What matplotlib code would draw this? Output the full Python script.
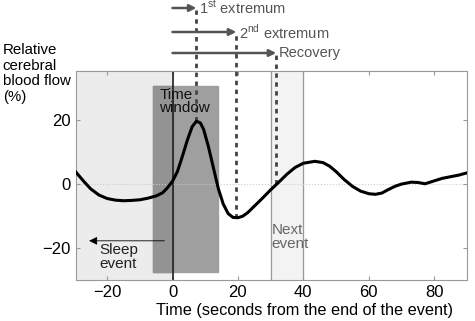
import numpy as np
import matplotlib.pyplot as plt
from matplotlib.patches import Rectangle

plt.rcParams['font.family'] = ['Liberation Sans', 'DejaVu Sans']

# relative cerebral blood flow around the end of a sleep event
t = [-29.5, -27, -25, -22.5, -20, -17.5, -15, -12.5, -10, -7.5, -5, -3, -1.5,
     0, 1.5, 3, 4.5, 6, 7.3, 8.5, 9.5, 11, 12.5, 14, 15.5, 17, 18.5, 20,
     21.5, 23, 25, 27.5, 30, 32.5, 35, 37.5, 40, 43.5, 46, 48, 50, 52.5,
     55, 57.5, 60, 62, 64, 66, 68, 70, 73, 75, 77.2, 80, 82.5, 85, 87.5, 90]
cbf = [3.6, 0.6, -1.6, -3.5, -4.6, -5.1, -5.3, -5.2, -5.0, -4.5, -3.8, -2.8, -1.2,
       0.8, 3.8, 8.5, 13.5, 17.8, 19.5, 19.0, 17.0, 11.5, 5.0, -1.5, -6.3, -9.3, -10.5, -10.6,
       -10.1, -9.0, -7.0, -4.5, -1.9, 0.5, 3.0, 5.1, 6.4, 7.0, 6.6, 5.5, 3.8, 1.3,
       -0.8, -2.3, -3.1, -3.3, -2.9, -1.8, -0.8, -0.1, 0.5, 0.4, 0.0, 0.9, 1.7, 2.2, 2.7, 3.4]

xticks = [-20, 0, 20, 40, 60, 80]
yticks = [-20, 0, 20]

first_ext, second_ext, recovery = 7.3, 19.5, 31.7
window = (-6, 14)
next_event = (30, 40)

fig = plt.figure(figsize=(4.75, 3.21), dpi=100)
ax = fig.add_axes([0.16, 0.128, 0.823, 0.652])
ax.set_xlim(-29.5, 90)
ax.set_ylim(-30, 35.3)

# shaded regions
ax.axvspan(-29.5, 0, color='#ececec', zorder=0)
ax.axvspan(next_event[0], next_event[1], color='#f3f3f3', zorder=0)
ax.axvline(next_event[0], color='#999999', lw=0.9, zorder=1)
ax.axvline(next_event[1], color='#999999', lw=0.9, zorder=1)
ax.add_patch(Rectangle((window[0], -27.5), window[1] - window[0], 58, color='#9f9f9f', zorder=1))
ax.add_patch(Rectangle((window[0], -27.5), 0 - window[0], 58, color='#939393', zorder=1))
ax.axhline(0, color='#cccccc', lw=0.8, ls=':', zorder=1)
ax.axvline(0, color='#222222', lw=1.2, zorder=2)

ax.plot(t, cbf, color='black', lw=2.2, zorder=4)

# dashed markers and arrows above the axes
marks = [(first_ext, 19.5, 8, '1$^{\\mathregular{st}}$ extremum'),
         (second_ext, -10.6, 32, '2$^{\\mathregular{nd}}$ extremum'),
         (recovery, 0.0, 53, 'Recovery')]
for xm, yv, ypix, label in marks:
    ytop = ax.transData.inverted().transform(
        fig.transFigure.transform((0, 1 - (ypix + 2) / 321)))[1]
    ax.plot([xm, xm], [yv, ytop], color='#444444', lw=2, ls=(0, (1.6, 1.6)),
            clip_on=False, zorder=3)
    ya = ax.transData.inverted().transform(
        fig.transFigure.transform((0, 1 - ypix / 321)))[1]
    ax.annotate('', xy=(xm, ya), xytext=(0, ya), annotation_clip=False,
                arrowprops=dict(arrowstyle='-|>', color='#555555', lw=1.8,
                                mutation_scale=10, shrinkA=0, shrinkB=0))
    ax.text(xm + 0.8, ya, label, color='#555555', fontsize=10.5, va='center', ha='left')

# sleep event arrow
ax.annotate('', xy=(-25.5, -17.8), xytext=(-2.5, -17.8),
            arrowprops=dict(arrowstyle='-|>', color='black', lw=0.6,
                            mutation_scale=12, shrinkA=0, shrinkB=0))
ax.text(-22.5, -18.6, 'Sleep\nevent', fontsize=11, va='top', ha='left',
        color='#222222', linespacing=0.95)
ax.text(-4, 30.0, 'Time\nwindow', fontsize=11, va='top', ha='left',
        color='#111111', linespacing=0.95)
ax.text(30.3, -12.3, 'Next\nevent', fontsize=11, va='top', ha='left',
        color='#666666', linespacing=0.95)

ax.set_xticks(xticks)
ax.set_yticks(yticks)
ax.set_xticklabels([str(v).replace('-', '\u2212') for v in xticks])
ax.set_yticklabels([str(v).replace('-', '\u2212') for v in yticks])
ax.tick_params(direction='in', length=3, color='#999999', labelsize=12,
               top=True, right=True, pad=4)
for s in ax.spines.values():
    s.set_color('#999999')

fig.text(0.64, 0.034, 'Time (seconds from the end of the event)', fontsize=11.7,
         ha='center', va='center')
fig.text(0.006, 0.865, 'Relative\ncerebral\nblood flow\n(%)', fontsize=10.8,
         va='top', ha='left', linespacing=1.13)

fig.savefig('out.png', dpi=100)
